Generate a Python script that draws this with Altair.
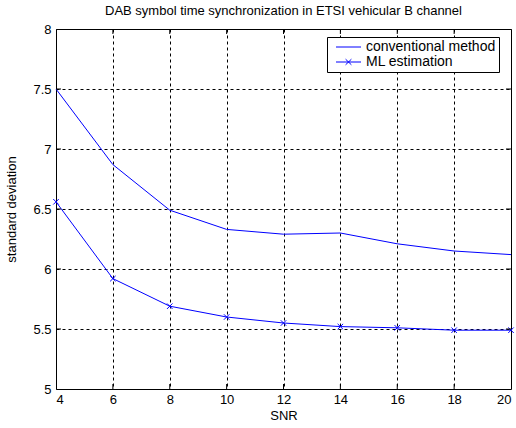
import altair as alt
import pandas as pd

snr = [4, 6, 8, 10, 12, 14, 16, 18, 20]
conventional = [7.50, 6.87, 6.49, 6.33, 6.29, 6.30, 6.21, 6.15, 6.12]
ml_estimation = [6.56, 5.92, 5.69, 5.60, 5.55, 5.52, 5.51, 5.49, 5.49]
x_ticks = [4, 6, 8, 10, 12, 14, 16, 18, 20]
y_ticks = [5, 5.5, 6, 6.5, 7, 7.5, 8]
series_names = ["conventional method", "ML estimation"]

FONT = "Liberation Sans"
BLUE = "#0000ff"
FS = 13

df = pd.DataFrame(
    [{"SNR": s, "std": v, "series": series_names[0]} for s, v in zip(snr, conventional)]
    + [{"SNR": s, "std": v, "series": series_names[1]} for s, v in zip(snr, ml_estimation)]
)
ml_df = df[df["series"] == series_names[1]]

xs = alt.Scale(domain=[4, 20], nice=False, zero=False)
ys = alt.Scale(domain=[5, 8], nice=False, zero=False)

x_enc = alt.X("SNR:Q", scale=xs, title="SNR",
              axis=alt.Axis(values=x_ticks, format="d", grid=True, gridDash=[3, 3],
                            gridColor="black", gridOpacity=1, gridWidth=1,
                            domain=False, ticks=False, labelPadding=4,
                            labelFont=FONT, labelFontSize=FS, labelColor="black",
                            titleFont=FONT, titleFontSize=FS, titleFontWeight="normal",
                            titleColor="black", titlePadding=3))
y_enc = alt.Y("std:Q", scale=ys, title="standard deviation",
              axis=alt.Axis(values=y_ticks, format="~g", grid=True, gridDash=[3, 3],
                            gridColor="black", gridOpacity=1, gridWidth=1,
                            domain=False, ticks=False, labelPadding=5,
                            labelFont=FONT, labelFontSize=FS, labelColor="black",
                            titleFont=FONT, titleFontSize=FS, titleFontWeight="normal",
                            titleColor="black", titlePadding=14))

lines = alt.Chart(df).mark_line(strokeWidth=1, color=BLUE).encode(
    x=x_enc, y=y_enc, detail="series:N"
)

markers = alt.Chart(ml_df).mark_point(
    shape="M-1,-1L1,1M-1,1L1,-1", size=30, filled=False, color=BLUE, strokeWidth=1, opacity=1
).encode(x=alt.X("SNR:Q", scale=xs), y=alt.Y("std:Q", scale=ys))

legend_pts = alt.Chart(df).mark_point(opacity=0, filled=False).encode(
    x=alt.X("SNR:Q", scale=xs),
    y=alt.Y("std:Q", scale=ys),
    shape=alt.Shape(
        "series:N",
        scale=alt.Scale(domain=series_names,
                        range=["M-0.25,0H6",
                               "M-0.25,0H6M2.15,-0.7L3.6,0.7M2.15,0.7L3.6,-0.7"]),
        legend=alt.Legend(title=None, orient="none", legendX=271, legendY=8,
                          symbolSize=64, symbolStrokeColor=BLUE, symbolStrokeWidth=1,
                          symbolOpacity=1, symbolFillColor="transparent",
                          labelFont=FONT, labelFontSize=14, labelColor="black",
                          labelOffset=22, rowPadding=1, padding=3,
                          strokeColor="black", fillColor="white", cornerRadius=0),
    ),
)

xt = pd.DataFrame({"t": x_ticks[1:-1]})
yt = pd.DataFrame({"t": y_ticks[1:-1]})
tick_bottom = alt.Chart(xt).mark_rule(color="black").encode(
    x=alt.X("t:Q", scale=xs), y=alt.value(360), y2=alt.value(355))
tick_top = alt.Chart(xt).mark_rule(color="black").encode(
    x=alt.X("t:Q", scale=xs), y=alt.value(0), y2=alt.value(5))
tick_left = alt.Chart(yt).mark_rule(color="black").encode(
    y=alt.Y("t:Q", scale=ys), x=alt.value(0), x2=alt.value(5))
tick_right = alt.Chart(yt).mark_rule(color="black").encode(
    y=alt.Y("t:Q", scale=ys), x=alt.value(455), x2=alt.value(450))

chart = alt.layer(lines, markers, tick_bottom, tick_top, tick_left, tick_right, legend_pts).properties(
    width=455, height=360,
    title=alt.TitleParams("DAB symbol time synchronization in ETSI vehicular B channel",
                          font=FONT, fontSize=FS, fontWeight="normal", color="black",
                          offset=5, anchor="middle"),
    autosize=alt.AutoSizeParams(type="none"),
    padding={"left": 56, "top": 29, "right": 5, "bottom": 39},
    background="white",
).configure_view(stroke="black", strokeWidth=1)

chart.save("out.html", embed_options={"renderer": "svg", "actions": False})
